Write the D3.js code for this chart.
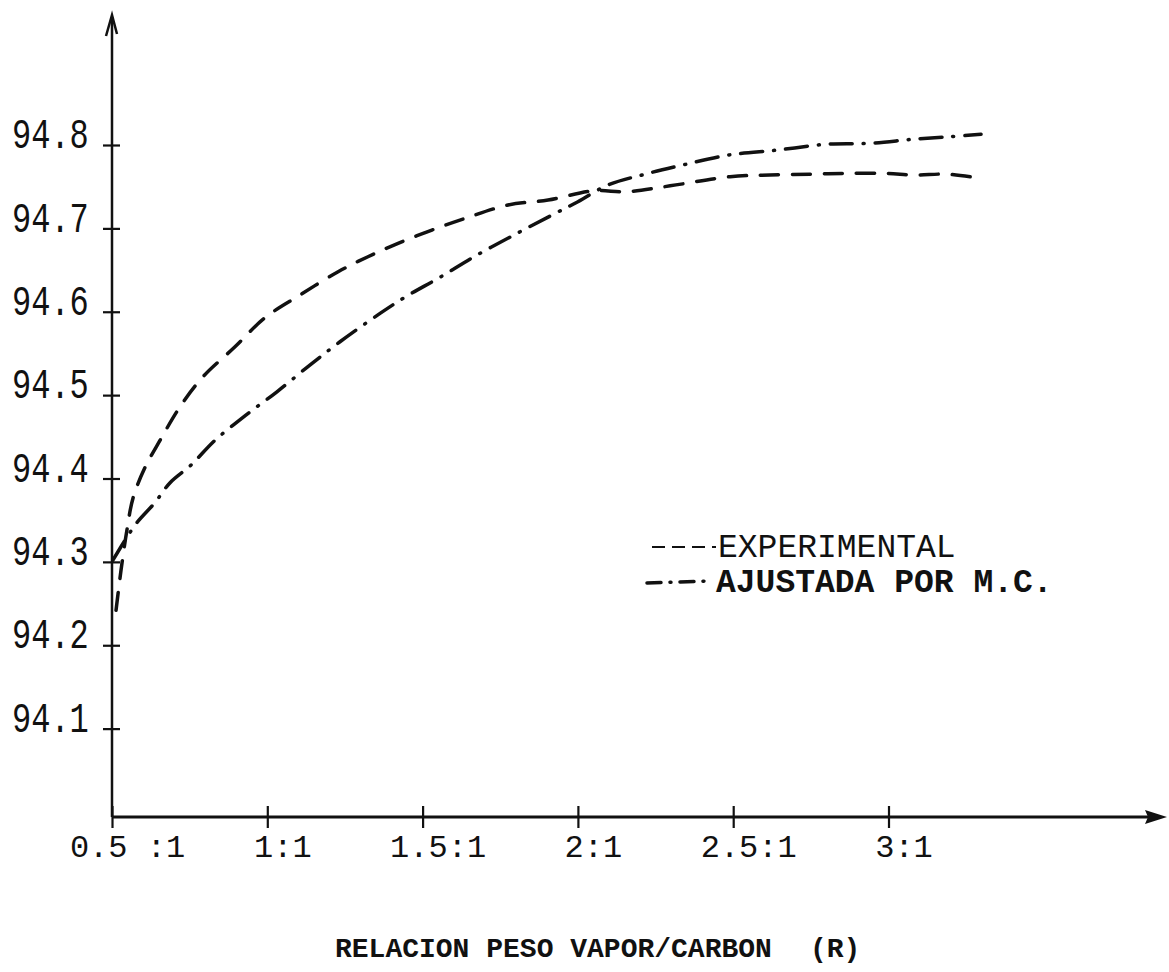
<!DOCTYPE html>
<html>
<head>
<meta charset="utf-8">
<script src="https://cdn.jsdelivr.net/npm/d3@7"></script>
<style>
  body { margin: 0; background: #fff; }
  svg { display: block; }
  .lbl { font-family: "Liberation Mono", "Courier New", monospace; fill: #111; }
</style>
</head>
<body>
<svg id="chart" width="1169" height="972"></svg>
<script>
// tick values and labels
var xTicks = [0.5, 1, 1.5, 2, 2.5, 3];
var xTickLabels = ["0.5 :1", "1:1", "1.5:1", "2:1", "2.5:1", "3:1"];
var yTicks = [94.1, 94.2, 94.3, 94.4, 94.5, 94.6, 94.7, 94.8];
var yTickLabels = ["94.1", "94.2", "94.3", "94.4", "94.5", "94.6", "94.7", "94.8"];

// EXPERIMENTAL (dashed)
var expX = [0.513, 0.529, 0.548, 0.568, 0.606, 0.655, 0.719, 0.793, 0.896, 0.993,
            1.105, 1.228, 1.324, 1.421, 1.530, 1.637, 1.775, 1.904, 2.049, 2.158,
            2.297, 2.490, 2.618, 2.747, 2.863, 2.992, 3.085, 3.188, 3.295];
var expY = [94.242, 94.290, 94.338, 94.377, 94.413, 94.446, 94.486, 94.522, 94.558, 94.593,
            94.620, 94.648, 94.666, 94.682, 94.698, 94.712, 94.728, 94.734, 94.745, 94.744,
            94.751, 94.762, 94.764, 94.765, 94.766, 94.766, 94.764, 94.765, 94.760];

// AJUSTADA POR M.C. (dash-dot)
var mcX = [0.503, 0.542, 0.580, 0.638, 0.687, 0.754, 0.832, 0.931, 1.031, 1.137,
           1.234, 1.363, 1.450, 1.550, 1.675, 1.804, 1.917, 2.000, 2.097, 2.216,
           2.338, 2.486, 2.644, 2.802, 2.940, 3.082, 3.198, 3.298];
var mcY = [94.302, 94.326, 94.347, 94.371, 94.395, 94.416, 94.446, 94.476, 94.504, 94.536,
           94.564, 94.598, 94.619, 94.640, 94.668, 94.694, 94.716, 94.732, 94.752, 94.765,
           94.776, 94.788, 94.794, 94.801, 94.802, 94.807, 94.810, 94.813];

var ink = "#111";
var svg = d3.select("#chart");

var x = d3.scaleLinear().domain([0.5, 3]).range([112, 888.5]);
var y = d3.scaleLinear().domain([94.0, 94.8]).range([812, 145]);
var axisY = 817;

function zip(xs, ys) {
  return xs.map(function(d, i) { return [d, ys[i]]; });
}

//x axis with ticks crossing the line
function drawXAxis() {
  var g = svg.append("g")
      .attr("transform", "translate(0," + axisY + ")")
      .call(d3.axisBottom(x).tickValues(xTicks).tickSizeOuter(0)
              .tickFormat(function(d, i) { return xTickLabels[i]; }));
  g.select(".domain").remove();
  g.selectAll(".tick line")
      .attr("y1", -11).attr("y2", 11)
      .attr("stroke", ink).attr("stroke-width", 2.2);
  g.selectAll(".tick text")
      .attr("class", "lbl")
      .attr("y", 40).attr("dy", 0).attr("dx", 15)
      .style("font-size", "32px")
      .attr("fill", ink);

  svg.append("line")
      .attr("x1", x(0.5)).attr("x2", 1150)
      .attr("y1", axisY).attr("y2", axisY)
      .attr("stroke", ink).attr("stroke-width", 3);
  svg.append("path")
      .attr("d", "M1167," + axisY + " L1145," + (axisY - 7) + " L1148," + axisY + " L1145," + (axisY + 7) + " Z")
      .attr("fill", ink);
}

//y axis, labels sit left of the ticks
function drawYAxis() {
  var g = svg.append("g")
      .attr("transform", "translate(" + x(0.5) + ",0)")
      .call(d3.axisLeft(y).tickValues(yTicks).tickSizeOuter(0)
              .tickFormat(function(d, i) { return yTickLabels[i]; }));
  g.select(".domain").remove();
  g.selectAll(".tick line")
      .attr("x1", -9).attr("x2", 8)
      .attr("stroke", ink).attr("stroke-width", 2.2);
  g.selectAll(".tick text")
      .attr("class", "lbl")
      .attr("x", -100).attr("y", 2).attr("dy", 0)
      .style("text-anchor", "start")
      .style("font-size", "32px")
      .attr("transform", "scale(1,1.35)")
      .attr("fill", ink);

  svg.append("line")
      .attr("x1", x(0.5)).attr("x2", x(0.5))
      .attr("y1", axisY).attr("y2", 18)
      .attr("stroke", ink).attr("stroke-width", 2.5);
  svg.append("path")
      .attr("d", "M106,36 L112,15 L117,34")
      .attr("fill", "none").attr("stroke", ink).attr("stroke-width", 2.5);
}

//the two curves
function drawCurves() {
  var line = d3.line()
      .x(function(d) { return x(d[0]); })
      .y(function(d) { return y(d[1]); })
      .curve(d3.curveCatmullRom);

  svg.append("path")
      .datum(zip(expX, expY))
      .attr("d", line)
      .attr("fill", "none")
      .attr("stroke", ink)
      .attr("stroke-width", 3.5)
      .attr("stroke-linecap", "round")
      .attr("stroke-dasharray", "18,14");

  svg.append("path")
      .datum(zip(mcX, mcY))
      .attr("d", line)
      .attr("fill", "none")
      .attr("stroke", ink)
      .attr("stroke-width", 3.5)
      .attr("stroke-linecap", "round")
      .attr("stroke-dasharray", "22,11,1,11");
}

//legend and axis title
function drawText() {
  svg.append("line")
      .attr("x1", 652).attr("x2", 716)
      .attr("y1", 547).attr("y2", 547)
      .attr("stroke", ink).attr("stroke-width", 2)
      .attr("stroke-dasharray", "13,7");
  svg.append("text").attr("class", "lbl")
      .attr("x", 718).attr("y", 557)
      .style("font-size", "33px")
      .text("EXPERIMENTAL");

  svg.append("line")
      .attr("x1", 647).attr("x2", 708)
      .attr("y1", 583).attr("y2", 581)
      .attr("stroke", ink).attr("stroke-width", 3.5)
      .attr("stroke-linecap", "round")
      .attr("stroke-dasharray", "14,9,1,9");
  svg.append("text").attr("class", "lbl")
      .attr("x", 716).attr("y", 592)
      .style("font-size", "33px")
      .style("font-weight", "bold")
      .text("AJUSTADA POR M.C.");

  svg.append("text").attr("class", "lbl")
      .attr("x", 335).attr("y", 957)
      .style("font-size", "28px")
      .style("font-weight", "bold")
      .text("RELACION PESO VAPOR/CARBON");
  svg.append("text").attr("class", "lbl")
      .attr("x", 810).attr("y", 957)
      .style("font-size", "28px")
      .style("font-weight", "bold")
      .text("(R)");
}

drawYAxis();
drawXAxis();
drawCurves();
drawText();
</script>
</body>
</html>
